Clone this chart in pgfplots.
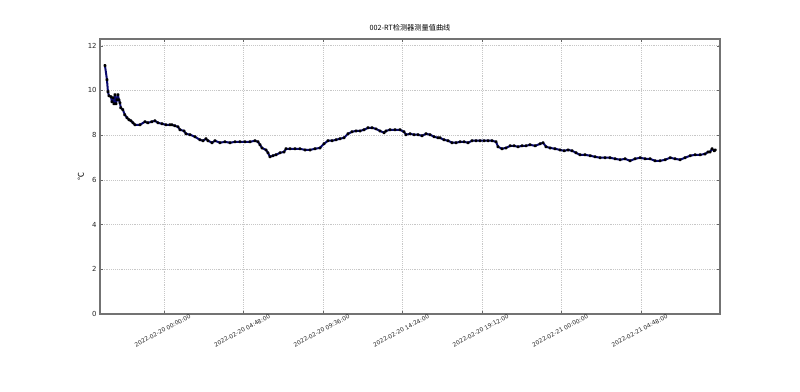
\documentclass[border=0pt]{standalone}
\usepackage{pgfplots}
\pgfplotsset{compat=1.18}
\usepackage{fontspec}
\setmainfont{DejaVu Sans}
\newfontfamily\cjk{Noto Sans CJK SC}
\begin{document}
\begin{tikzpicture}[x=1pt,y=1pt]
\begin{axis}[
  scale only axis,
  width=465pt, height=206.25pt,
  xmin=-3.86, xmax=33.57,
  ymin=0, ymax=12.3,
  xtick={0,4.8,9.6,14.4,19.2,24,28.8},
  xticklabels={2022-02-20 00:00:00,2022-02-20 04:48:00,2022-02-20 09:36:00,2022-02-20 14:24:00,2022-02-20 19:12:00,2022-02-21 00:00:00,2022-02-21 04:48:00},
  ytick={0,2,4,6,8,10,12},
  /pgf/number format/assume math mode=true,
  tick label style={font=\fontsize{5.2}{6}\selectfont, text=black!85},
  xticklabel style={font=\fontsize{4.4}{5.5}\selectfont, yshift=-12.5pt, xshift=-1pt, rotate=28, anchor=center},
  yticklabel style={xshift=1pt},
  tick align=inside,
  major tick length=2.5pt,
  tick style={black!60},
  axis line style={black!55, line width=0.8pt},
  grid=major,
  grid style={black!22, densely dotted, line width=0.5pt},
  title={\cjk\fontsize{5.4}{6.5}\selectfont 002-RT检测器测量值曲线},
  title style={yshift=-3.5pt},
  ylabel={\cjk\fontsize{6}{7}\selectfont ℃},
  ylabel style={yshift=-4pt},
  clip=true,
]
\addplot[color={rgb,255:red,10;green,10;blue,110}, line width=1.5pt, line join=round, mark=*, mark size=0.5pt, mark options={fill=black,draw=black}] table[row sep=\\] {
h v\\
-3.56 11.11\\
-3.44 10.48\\
-3.38 9.94\\
-3.32 9.76\\
-3.20 9.72\\
-3.14 9.49\\
-3.08 9.67\\
-3.02 9.40\\
-2.96 9.81\\
-2.90 9.40\\
-2.84 9.58\\
-2.78 9.81\\
-2.72 9.58\\
-2.66 9.45\\
-2.60 9.22\\
-2.48 9.14\\
-2.36 8.91\\
-2.23 8.78\\
-2.11 8.69\\
-1.99 8.64\\
-1.87 8.55\\
-1.75 8.46\\
-1.45 8.46\\
-1.15 8.60\\
-0.97 8.55\\
-0.73 8.60\\
-0.54 8.64\\
-0.36 8.55\\
-0.12 8.51\\
0.12 8.46\\
0.36 8.46\\
0.48 8.46\\
0.66 8.42\\
0.85 8.37\\
0.97 8.24\\
1.21 8.19\\
1.33 8.06\\
1.57 8.02\\
1.87 7.93\\
2.17 7.79\\
2.36 7.75\\
2.54 7.84\\
2.66 7.75\\
2.90 7.66\\
3.08 7.75\\
3.38 7.66\\
3.68 7.70\\
3.99 7.66\\
4.29 7.70\\
4.59 7.70\\
4.89 7.70\\
5.19 7.70\\
5.50 7.75\\
5.68 7.70\\
5.80 7.57\\
5.92 7.43\\
6.16 7.34\\
6.28 7.21\\
6.40 7.03\\
6.58 7.08\\
6.76 7.12\\
7.01 7.21\\
7.25 7.25\\
7.37 7.39\\
7.61 7.39\\
7.91 7.39\\
8.21 7.39\\
8.52 7.34\\
8.82 7.34\\
9.12 7.39\\
9.42 7.43\\
9.66 7.61\\
9.90 7.75\\
10.15 7.75\\
10.39 7.79\\
10.63 7.84\\
10.87 7.88\\
11.11 8.06\\
11.35 8.15\\
11.60 8.19\\
11.84 8.19\\
12.08 8.24\\
12.32 8.33\\
12.56 8.33\\
12.80 8.28\\
13.04 8.19\\
13.29 8.11\\
13.41 8.19\\
13.65 8.24\\
13.95 8.24\\
14.25 8.24\\
14.49 8.15\\
14.61 8.02\\
14.86 8.06\\
15.10 8.02\\
15.34 8.02\\
15.58 7.97\\
15.82 8.06\\
16.06 8.02\\
16.31 7.93\\
16.55 7.88\\
16.67 7.88\\
16.91 7.79\\
17.15 7.75\\
17.39 7.66\\
17.63 7.66\\
17.88 7.70\\
18.12 7.70\\
18.36 7.66\\
18.60 7.75\\
18.84 7.75\\
19.08 7.75\\
19.33 7.75\\
19.57 7.75\\
19.81 7.75\\
20.05 7.70\\
20.17 7.48\\
20.41 7.39\\
20.65 7.43\\
20.90 7.52\\
21.14 7.52\\
21.38 7.48\\
21.62 7.52\\
21.86 7.52\\
22.10 7.57\\
22.41 7.52\\
22.71 7.61\\
22.89 7.66\\
23.07 7.48\\
23.31 7.43\\
23.61 7.39\\
23.91 7.34\\
24.16 7.30\\
24.40 7.34\\
24.64 7.30\\
24.88 7.21\\
25.12 7.12\\
25.42 7.12\\
25.73 7.08\\
26.03 7.03\\
26.33 6.99\\
26.63 6.99\\
26.93 6.99\\
27.24 6.94\\
27.54 6.90\\
27.84 6.94\\
28.14 6.85\\
28.44 6.94\\
28.75 6.99\\
29.05 6.94\\
29.35 6.94\\
29.65 6.85\\
29.95 6.85\\
30.26 6.90\\
30.56 6.99\\
30.86 6.94\\
31.16 6.90\\
31.46 6.99\\
31.77 7.08\\
32.07 7.12\\
32.37 7.12\\
32.67 7.16\\
32.85 7.25\\
32.97 7.25\\
33.09 7.39\\
33.22 7.30\\
33.28 7.34\\
};
\coordinate (ll) at (rel axis cs:0,0);
\coordinate (ur) at (rel axis cs:1,1);
\end{axis}
\pgfresetboundingbox
\path[use as bounding box] ([xshift=-75pt,yshift=-58.5pt]ll) rectangle ([xshift=60pt,yshift=29.25pt]ur);
\end{tikzpicture}
\end{document}
